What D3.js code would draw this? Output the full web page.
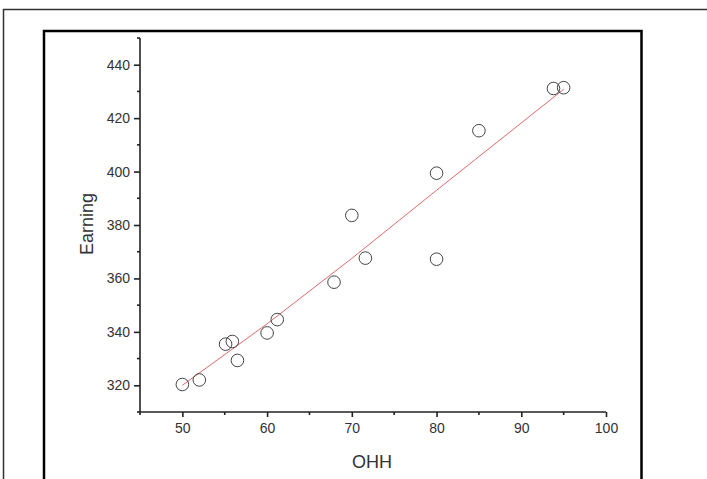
<!DOCTYPE html>
<html>
<head>
<meta charset="utf-8">
<script src="https://cdn.jsdelivr.net/npm/d3@7"></script>
<style>
  html, body { margin: 0; padding: 0; background: #fff; }
  svg { display: block; }
  text { font-family: "Liberation Sans", Arial, sans-serif; }
</style>
</head>
<body>
<svg id="chart" width="707" height="479"></svg>
<script>
// Observations: hours (OHH) against earnings
const ohh = [50, 52, 55.1, 55.9, 56.5, 60, 61.2, 67.9, 70, 71.6, 80, 80, 85, 93.8, 95];
const earning = [320.3, 322, 335.4, 336.4, 329.3, 339.6, 344.6, 358.6, 383.6, 367.6, 399.4, 367.2, 415.3, 431.1, 431.4];

// Fitted trend line
const fitX = [50, 60, 70, 80, 95];
const fitY = [320, 343, 367.5, 393, 430.8];

// Axis ticks
const xMajor = [50, 60, 70, 80, 90, 100];
const xMinor = [45, 55, 65, 75, 85, 95];
const yMajor = [320, 340, 360, 380, 400, 420, 440];
const yMinor = [310, 330, 350, 370, 390, 410, 430, 450];

const svg = d3.select("#chart");

// Page border and plot frame
svg.append("path")
  .attr("d", "M3.5,479 V9.5 H707")
  .attr("fill", "none").attr("stroke", "#333").attr("stroke-width", 1.5);
svg.append("path")
  .attr("d", "M44,479 V31 H641.5 V479")
  .attr("fill", "none").attr("stroke", "#000").attr("stroke-width", 2.5);

const x = d3.scaleLinear().domain([45, 100]).range([140, 606]);
const y = d3.scaleLinear().domain([310, 450]).range([412, 38]);

const axisColor = "#222";
const labelColor = "#333";

// X axis
const gx = svg.append("g").attr("transform", `translate(0,${y(310)})`);
gx.call(d3.axisBottom(x).tickValues(xMajor).tickSize(5).tickPadding(6).tickFormat(d3.format("d")));
gx.call(g => g.select(".domain").attr("d", `M${x(45)},0H${x(100)}`));
gx.append("g").selectAll("line").data(xMinor).join("line")
  .attr("x1", d => x(d)).attr("x2", d => x(d)).attr("y1", 0).attr("y2", 3);

// Y axis
const gy = svg.append("g").attr("transform", `translate(${x(45)},0)`);
gy.call(d3.axisLeft(y).tickValues(yMajor).tickSize(6).tickPadding(4).tickFormat(d3.format("d")));
gy.call(g => g.select(".domain").attr("d", `M0,${y(450)}V${y(310)}`));
gy.append("g").selectAll("line").data(yMinor).join("line")
  .attr("x1", 0).attr("x2", -3).attr("y1", d => y(d)).attr("y2", d => y(d));

[gx, gy].forEach(g => {
  g.selectAll(".domain").attr("stroke", axisColor).attr("stroke-width", 1.6);
  g.selectAll("line").attr("stroke", axisColor).attr("stroke-width", 1.6);
  g.selectAll("text").attr("fill", labelColor).attr("font-size", 14)
    .attr("font-family", "'Liberation Sans', Arial, sans-serif");
});

// Axis titles
svg.append("text")
  .attr("x", 372).attr("y", 468)
  .attr("text-anchor", "middle")
  .attr("font-size", 18).attr("fill", labelColor)
  .text("OHH");
svg.append("text")
  .attr("transform", "translate(93,224) rotate(-90)")
  .attr("text-anchor", "middle")
  .attr("font-size", 18).attr("fill", labelColor)
  .text("Earning");

// Trend line
const line = d3.line().x(d => x(d[0])).y(d => y(d[1]));
svg.append("path")
  .datum(d3.zip(fitX, fitY))
  .attr("d", line)
  .attr("fill", "none").attr("stroke", "#e06a6a").attr("stroke-width", 1);

// Data points
svg.append("g").selectAll("circle")
  .data(d3.zip(ohh, earning))
  .join("circle")
  .attr("cx", d => x(d[0])).attr("cy", d => y(d[1]))
  .attr("r", 6.3)
  .attr("fill", "none").attr("stroke", "#444").attr("stroke-width", 1);
</script>
</body>
</html>
